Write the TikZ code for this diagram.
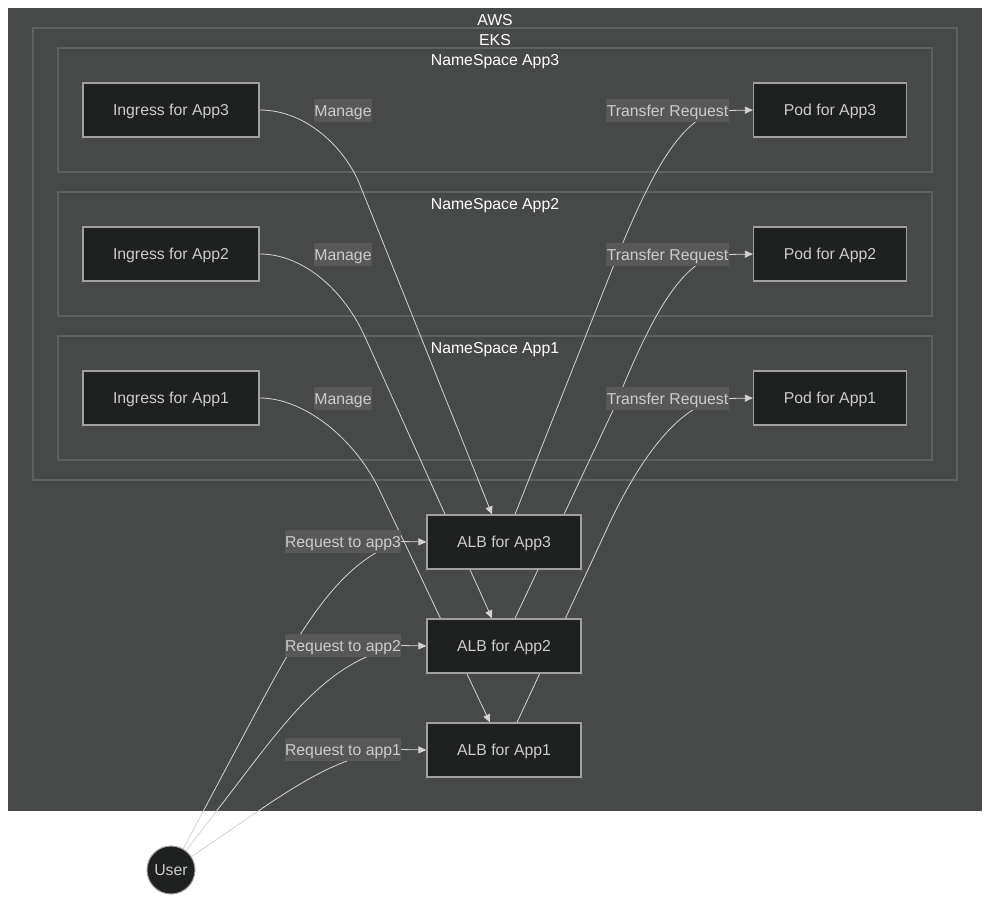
\documentclass[tikz,border=0pt]{standalone}
\usepackage{fontspec}
\setmainfont{Liberation Sans}
\usetikzlibrary{arrows.meta}
\definecolor{awsbg}{HTML}{474948}
\definecolor{clusterline}{HTML}{5F6160}
\definecolor{boxfill}{HTML}{1F2020}
\definecolor{boxline}{HTML}{A0A0A0}
\definecolor{edgeline}{HTML}{D3D3D3}
\definecolor{labelbg}{HTML}{585858}
\definecolor{textgray}{HTML}{CCCCCC}
\newcommand\diafont{\fontsize{15.8}{18}\selectfont}
\pgfdeclarelayer{clusters}
\pgfdeclarelayer{edges}
\pgfsetlayers{clusters,edges,main}
\tikzset{
  svc/.style={draw=boxline, fill=boxfill, line width=1.2pt, text=textgray,
    minimum height=54pt, inner sep=0pt, font=\diafont, text height=11.5pt, text depth=0pt},
  cluster/.style={draw=clusterline, line width=1.5pt},
  title/.style={text=white, font=\diafont, inner sep=0pt, text height=11.5pt, text depth=0pt},
  elabel/.style={fill=labelbg, text=textgray, inner xsep=0.5pt, inner ysep=0pt,
    minimum height=23pt, font=\diafont, text height=11.5pt, text depth=0pt},
  link/.style={draw=edgeline, line width=0.8pt},
  arr/.style={-{Triangle[length=8pt,width=7pt]}}
}
\begin{document}
\begin{tikzpicture}[x=1pt,y=-1pt]
\useasboundingbox (0,0) rectangle (990,904);

% clusters
\begin{pgfonlayer}{clusters}
\fill[white] (0,0) rectangle (990,904);
\fill[awsbg] (8,8) rectangle (982,811);
\draw[cluster] (33,28) rectangle (957,480);
\draw[cluster] (58,48) rectangle (932,172);
\draw[cluster] (58,192) rectangle (932,316);
\draw[cluster] (58,336) rectangle (932,460);
\end{pgfonlayer}
\node[title] (awst) at (495,19.5) {AWS};
\node[title] (ekst) at (495,39.5) {EKS};
\node[title] (ns3t) at (495,59.5) {NameSpace App3};
\node[title] (ns2t) at (495,203.5) {NameSpace App2};
\node[title] (ns1t) at (495,347.5) {NameSpace App1};

% nodes
\node[svc, minimum width=176pt] (ing3) at (171,110) {Ingress for App3};
\node[svc, minimum width=176pt] (ing2) at (171,254) {Ingress for App2};
\node[svc, minimum width=176pt] (ing1) at (171,398) {Ingress for App1};
\node[svc, minimum width=153pt] (pod3) at (830,110) {Pod for App3};
\node[svc, minimum width=153pt] (pod2) at (830,254) {Pod for App2};
\node[svc, minimum width=153pt] (pod1) at (830,398) {Pod for App1};
\node[svc, minimum width=154pt] (alb3) at (504,542) {ALB for App3};
\node[svc, minimum width=154pt] (alb2) at (504,646) {ALB for App2};
\node[svc, minimum width=154pt] (alb1) at (504,750) {ALB for App1};
\node[svc, circle, minimum size=48pt, line width=1pt] (user) at (171,870) {User};

% edge labels
\node[elabel] (m3) at (343,110.5) {Manage};
\node[elabel] (m2) at (343,254.5) {Manage};
\node[elabel] (m1) at (343,398.5) {Manage};
\node[elabel] (tr3) at (667.5,110.5) {Transfer Request};
\node[elabel] (tr2) at (667.5,254.5) {Transfer Request};
\node[elabel] (tr1) at (667.5,398.5) {Transfer Request};
\node[elabel] (rq3) at (343,541.5) {Request to app3};
\node[elabel] (rq2) at (343,645.5) {Request to app2};
\node[elabel] (rq1) at (343,749.5) {Request to app1};

% edges
\begin{pgfonlayer}{edges}
\path[link,arr] (ing3.east) .. controls (308,110) and (346,150) .. (360,185) -- ([xshift=-12pt]alb3.north);
\path[link,arr] (ing2.east) .. controls (303,254) and (344,290) .. (365,337) -- ([xshift=-12pt]alb2.north);
\path[link,arr] (ing1.east) .. controls (303,398) and (352,436) .. (378,487) -- ([xshift=-14pt]alb1.north);

\path[link,arr] ([xshift=11pt]alb3.north) -- (615,262) .. controls (660,150) and (690,110) .. (tr3.east) -- (pod3.west);
\path[link,arr] ([xshift=11pt]alb2.north) -- (615,406) .. controls (660,294) and (690,254) .. (tr2.east) -- (pod2.west);
\path[link,arr] ([xshift=13pt]alb1.north) -- (612,518) .. controls (650,440) and (690,398) .. (tr1.east) -- (pod1.west);

\path[link,arr] (user.60) -- (255,714) .. controls (300,630) and (340,560) .. (rq3.east) -- (alb3.west);
\path[link,arr] (user.52) -- (235,787) .. controls (290,715) and (330,660) .. (rq2.east) -- (alb2.west);
\path[link,arr] (user.33) -- (270,803) .. controls (310,777) and (350,752) .. (rq1.east) -- (alb1.west);
\end{pgfonlayer}
\end{tikzpicture}
\end{document}
